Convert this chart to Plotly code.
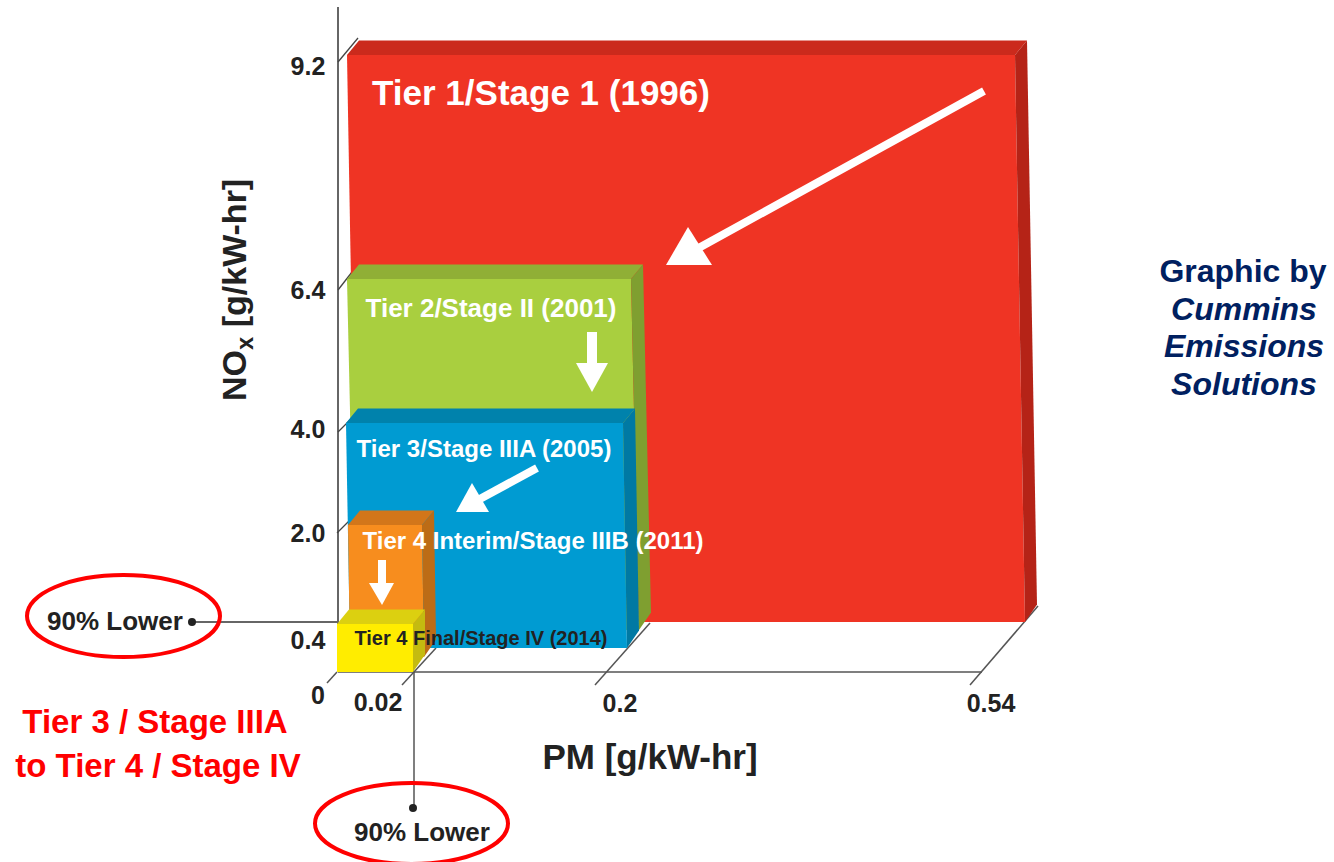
import numpy as np
import plotly.graph_objects as go

# ---- data ----
TIERS = ["Tier 1/Stage 1 (1996)", "Tier 2/Stage II (2001)", "Tier 3/Stage IIIA (2005)",
         "Tier 4 Interim/Stage IIIB (2011)", "Tier 4 Final/Stage IV (2014)"]
TIER_PM = [0.54, 0.2, 0.2, 0.02, 0.02]
TIER_NOX = [9.2, 6.4, 4.0, 2.0, 0.4]
PM_TICKS = [0, 0.02, 0.2, 0.54]
NOX_TICKS = [0.4, 2.0, 4.0, 6.4, 9.2]
PM_TICK_TEXT = ["0", "0.02", "0.2", "0.54"]
NOX_TICK_TEXT = ["0.4", "2.0", "4.0", "6.4", "9.2"]

# ---- the picture's hand-drawn, non-linear scales (axis units = page pixels) ----
PM_SCALE = [337, 413, 623, 1015]
NOX_SCALE = [624, 525, 423, 279, 55]
LAYER_BOTTOM = [622, 630, 648, 657, 672]
LAYER_SHIFT = [0, 8, 0, 9, 0]
LEFT_SHIFT = [10, 10, 9, 11, 0]
LEAN = [10, 8, 4, 2, 0]
DEPTH_TOP = (12, -14.5)
DEPTH_BOTTOM = (12, -17.5)

FRONT = ["#EF3424", "#A9CF3F", "#009BD2", "#F78D1E", "#FFED00"]
TOP = ["#CB2A1C", "#90AF36", "#0082AC", "#D2761A", "#DCD010"]
SIDE = ["#B52317", "#7F9F30", "#0079A3", "#BC6C16", "#C4BB10"]

LABEL_POS = [(541, 96), (491, 310), (484, 451), (533, 543), (481, 640)]
LABEL_SIZE = [35, 26, 24, 24, 20]
LABEL_COLOR = ["white", "white", "white", "white", "#222222"]

FONT = "Liberation Sans"
NAVY = "#002060"
AXIS = "#3A3A3A"

fig = go.Figure()


def poly(xs, ys, color):
    fig.add_trace(go.Scatter(x=xs, y=ys, mode="lines", fill="toself", fillcolor=color,
                             line=dict(width=0, color=color), hoverinfo="skip"))


def line(xs, ys, color=AXIS, width=1.5):
    fig.add_trace(go.Scatter(x=xs, y=ys, mode="lines", line=dict(color=color, width=width),
                             hoverinfo="skip"))


def text(x, y, s, size, color="#222222", pos="middle center"):
    fig.add_trace(go.Scatter(x=[x], y=[y], mode="text", text=[s], textposition=pos,
                             textfont=dict(family=FONT, size=size, color=color),
                             hoverinfo="skip"))


# axis guides behind the boxes
line([338, 338], [7, 672], "#333333", 1.5)
line([338, 982], [672, 672], "#555555", 1.5)
line([338, 358], [62, 38], "#444444", 1.3)
line([338, 352], [290, 272], "#444444", 1.3)
line([338, 350], [432, 420], "#444444", 1.3)
line([337, 350], [533, 520], "#444444", 1.3)
line([1038, 970], [606, 685], "#555555", 1.5)
line([650, 595], [623, 685], "#555555", 1.5)
line([436, 402], [648, 685], "#555555", 1.5)
line([337, 327], [672, 683], "#555555", 1.5)
line([193, 337], [622, 622], "#333333", 1.3)
line([414, 414], [672, 808], "#555555", 1.5)

# boxes, largest first
for i in range(len(TIERS)):
    xr = float(np.interp(TIER_PM[i], PM_TICKS, PM_SCALE)) + LAYER_SHIFT[i]
    xl = PM_SCALE[0] + LEFT_SHIFT[i]
    yt = float(np.interp(TIER_NOX[i], NOX_TICKS, NOX_SCALE[::1]))
    yb = LAYER_BOTTOM[i]
    lean = LEAN[i]
    poly([xl, xr, xr + lean, xl + lean, xl], [yt, yt, yb, yb, yt], FRONT[i])
    poly([xl, xl + DEPTH_TOP[0], xr + DEPTH_TOP[0], xr, xl],
         [yt, yt + DEPTH_TOP[1], yt + DEPTH_TOP[1], yt, yt], TOP[i])
    poly([xr, xr + DEPTH_TOP[0], xr + lean + DEPTH_BOTTOM[0], xr + lean, xr],
         [yt, yt + DEPTH_TOP[1], yb + DEPTH_BOTTOM[1], yb, yt], SIDE[i])

# white arrows: (shaft x, shaft y, shaft width, head x, head y)
ARROWS = [
    ([984, 695], [91, 250], 8, [688, 666, 712, 688], [227, 265, 265, 227]),
    ([592, 592], [332, 366], 10, [592, 576, 608, 592], [392, 363, 363, 392]),
    ([537, 478], [468, 500], 8, [472, 456, 489, 472], [483, 512, 512, 483]),
    ([382, 382], [560, 585], 8, [382, 369, 394, 382], [605, 583, 583, 605]),
]
for sx, sy, w, hx, hy in ARROWS:
    line(sx, sy, "white", w)
    poly(hx, hy, "white")

# box labels
for name, (x, y), s, c in zip(TIERS, LABEL_POS, LABEL_SIZE, LABEL_COLOR):
    text(x, y, f"<b>{name}</b>", s, c)

# tick labels
NOX_LABEL_Y = [643, 536, 432, 293, 69]
for lab, y in zip(NOX_TICK_TEXT, NOX_LABEL_Y):
    text(308, y, f"<b>{lab}</b>", 25)
PM_LABEL_X = [318, 378, 620, 991]
PM_LABEL_Y = [698, 705, 706, 706]
for lab, x, y in zip(PM_TICK_TEXT, PM_LABEL_X, PM_LABEL_Y):
    text(x, y, f"<b>{lab}</b>", 25)

text(650, 760, "<b>PM [g/kW-hr]</b>", 35)

# callouts
fig.add_trace(go.Scatter(x=[192, 413], y=[622, 808], mode="markers",
                         marker=dict(size=8, color="#222222"), hoverinfo="skip"))
text(115, 623, "<b>90% Lower</b>", 26)
text(422, 834, "<b>90% Lower</b>", 26)

# side notes
text(155, 725, "<b>Tier 3 / Stage IIIA</b>", 33, "#FF0000")
text(158, 769, "<b>to Tier 4 / Stage IV</b>", 33, "#FF0000")
text(1243, 274, "<b>Graphic by</b>", 32, NAVY)
text(1244, 312, "<b><i>Cummins</i></b>", 32, NAVY)
text(1244, 349, "<b><i>Emissions</i></b>", 32, NAVY)
text(1244, 387, "<b><i>Solutions</i></b>", 32, NAVY)

fig.update_layout(
    width=1334, height=862, margin=dict(l=0, r=0, t=0, b=0),
    paper_bgcolor="white", plot_bgcolor="white", showlegend=False,
    xaxis=dict(range=[0, 1334], visible=False, fixedrange=True),
    yaxis=dict(range=[862, 0], visible=False, fixedrange=True),
    shapes=[
        dict(type="circle", xref="x", yref="y", x0=27, x1=220, y0=575, y1=657,
             line=dict(color="#FF0000", width=4)),
        dict(type="circle", xref="x", yref="y", x0=315, x1=508, y0=783, y1=864,
             line=dict(color="#FF0000", width=4)),
    ],
    annotations=[
        dict(x=236, y=290, xref="x", yref="y", text="<b>NO<sub>x</sub> [g/kW-hr]</b>",
             textangle=-90, showarrow=False,
             font=dict(family=FONT, size=34, color="#222222")),
    ],
)
fig.write_html("out.html", config={"displayModeBar": False},
               post_script="document.body.style.margin='0';document.body.style.overflow='hidden';")
